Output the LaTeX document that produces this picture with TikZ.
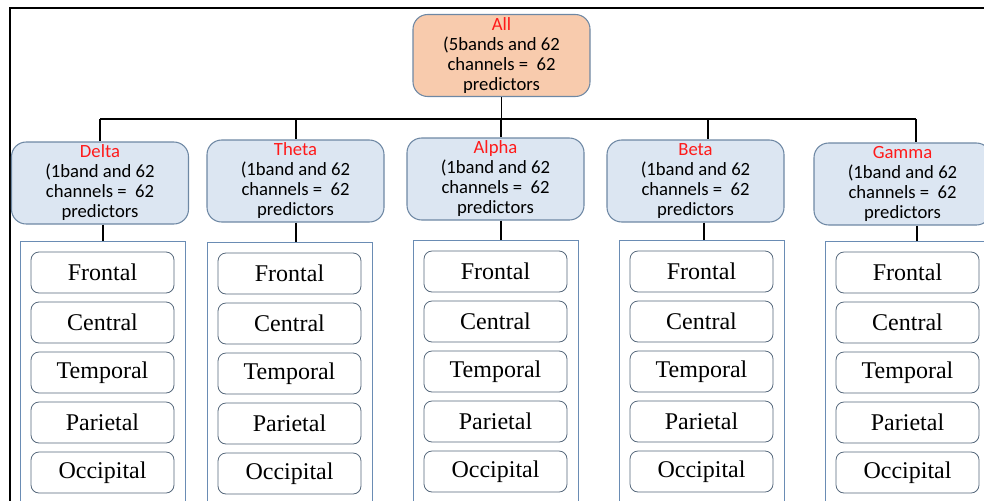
\documentclass[tikz,border=0pt]{standalone}
\usepackage{fontspec}
\setmainfont{Liberation Serif}
\newfontfamily\bandfont{Carlito}
\definecolor{bandfill}{HTML}{DCE6F2}
\definecolor{allfill}{HTML}{F8CBAD}
\definecolor{bandline}{HTML}{6E88A4}
\definecolor{regline}{HTML}{6A8CB4}
\definecolor{cellline}{HTML}{56687C}
\definecolor{labelred}{HTML}{FF1A1A}
\tikzset{
    bandbox/.style={draw=bandline, fill=bandfill, rounded corners=11pt, line width=0.8pt,
        minimum width=132.75pt, minimum height=61.5pt, inner sep=0pt, align=center,
        font=\bandfont\fontsize{14}{15}\selectfont},
    allbox/.style={bandbox, fill=allfill},
    regbox/.style={draw=regline, line width=0.6pt, minimum width=123.75pt, minimum height=210pt, inner sep=0pt},
    cellbox/.style={draw=cellline, fill=white, rounded corners=6pt, line width=0.6pt,
        minimum width=107.25pt, minimum height=30.75pt, inner sep=0pt, font=\fontsize{18}{20}\selectfont},
    link/.style={draw=black, line width=0.9pt}
}
\begin{document}
\begin{tikzpicture}[x=0.75pt,y=0.75pt,yscale=-1,xscale=1]
        \useasboundingbox (0,0) rectangle (984,500);
        \clip (0,0) rectangle (984,500);
        %Shape: Frame
        \draw [line width=1.8pt] (10,520) -- (10,8) -- (1000,8) ;
        %Shape: Rounded box (all bands)
        \node [allbox] (all) at (501.5,55.5) {\textcolor{labelred}{All}\\(5bands and 62\\channels = \ 62\\predictors};
        %Shape: Rounded boxes (one band each)
        \foreach \b/\lab/\x/\y in {delta/Delta/100/183, theta/Theta/295.5/181, alpha/Alpha/495.5/179, beta/Beta/695.5/181, gamma/Gamma/902.5/184}
            \node [bandbox] (\b) at (\x,\y) {\textcolor{labelred}{\lab}\\(1band and 62\\channels = \ 62\\predictors};
        %Shape: Region frames and cells
        \foreach \b/\x/\y in {delta/102.5/241, theta/289.5/242, alpha/495.5/240, beta/701.5/240, gamma/907.5/241}{
            \node [regbox, anchor=north] (\b-reg) at (\x,\y) {};
            \foreach \c [count=\i from 0] in {Frontal,Central,Temporal,Parietal,Occipital}
                \node [cellbox] (\b-\i) at (\x,\y+31.5+50*\i) {\c};
        }
        %Straight Lines: bus
        \coordinate (busL) at (100,119);
        \coordinate (busR) at (916,119);
        \draw [link] (busL) -- (busR) ;
        \draw [link] (all.south) -- (all.south |- busL) ;
        \foreach \b/\xt/\xl in {delta/100/103, theta/296/296, alpha/501/501, beta/708/704, gamma/916/917}{
            \coordinate (\b-top) at (\xt,119);
            \coordinate (\b-low) at (\xl,230);
            \draw [link] (\b-top) -- (\b-top |- \b.north) ;
            \draw [link] (\b.south -| \b-low) -- (\b-reg.north -| \b-low) ;
        }
\end{tikzpicture}
\end{document}
